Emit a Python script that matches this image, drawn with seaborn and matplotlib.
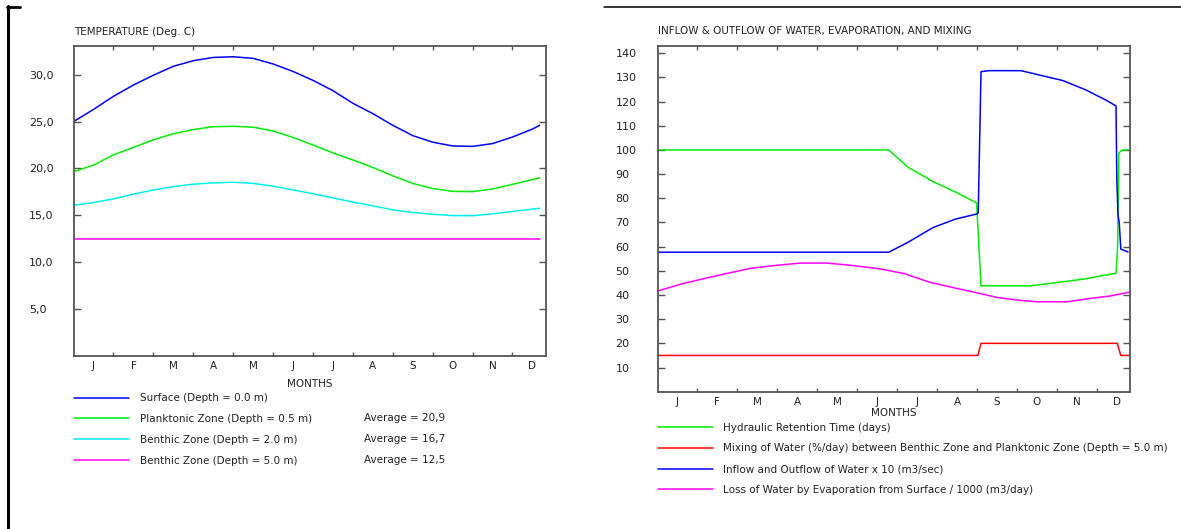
import seaborn as sns
import matplotlib.pyplot as plt
from matplotlib.lines import Line2D

month_names = ["J", "F", "M", "A", "M", "J", "J", "A", "S", "O", "N", "D"]

# --- temperature panel ---
temp_x = [0, 0.5, 1, 1.5, 2, 2.5, 3, 3.5, 4, 4.5, 5, 5.5, 6, 6.5, 7, 7.5,
          8, 8.5, 9, 9.5, 10, 10.5, 11, 11.5, 11.68]
surface_t = [25.0, 26.3, 27.7, 28.9, 29.95, 30.9, 31.5, 31.85, 31.92, 31.75,
             31.15, 30.35, 29.4, 28.3, 26.95, 25.85, 24.6, 23.5, 22.8, 22.4,
             22.35, 22.65, 23.35, 24.2, 24.6]
planktonic_t = [19.65, 20.35, 21.45, 22.25, 23.05, 23.7, 24.15, 24.45, 24.5,
                24.4, 24.0, 23.3, 22.5, 21.65, 20.9, 20.1, 19.2, 18.4, 17.85,
                17.55, 17.52, 17.8, 18.3, 18.8, 19.0]
benthic2_t = [16.07, 16.35, 16.75, 17.25, 17.7, 18.05, 18.32, 18.45, 18.52,
              18.4, 18.1, 17.7, 17.3, 16.85, 16.4, 16.0, 15.58, 15.3, 15.1,
              14.96, 14.95, 15.15, 15.4, 15.65, 15.74]
benthic5_x = [0, 11.68]
benthic5_t = [12.5, 12.5]
temp_labels = ["Surface (Depth = 0.0 m)", "Planktonic Zone (Depth = 0.5 m)",
               "Benthic Zone (Depth = 2.0 m)", "Benthic Zone (Depth = 5.0 m)"]
temp_averages = ["Average = 20,9", "Average = 16,7", "Average = 12,5"]
temp_ticks = [5, 10, 15, 20, 25, 30]

# --- water panel ---
hrt_x = [0, 5.79, 6.26, 6.9, 7.46, 7.99, 8.1, 9.34, 9.84, 10.68, 11.48,
         11.52, 11.55, 11.6, 11.65, 11.78]
hrt = [100, 100, 93, 86.9, 82.6, 78.1, 43.8, 43.8, 44.8, 46.6, 49.0,
       60, 98.6, 99.5, 100, 100]
mixing_x = [0, 8.02, 8.1, 11.51, 11.6, 11.8]
mixing = [15, 15, 20, 20, 15, 15]
flow_x = [0, 5.79, 6.26, 6.9, 7.46, 7.99, 8.03, 8.1, 8.31, 9.1, 9.56, 10.15,
          10.73, 11.23, 11.48, 11.5, 11.53, 11.56, 11.6, 11.78]
flow = [57.7, 57.7, 61.7, 67.9, 71.4, 73.5, 74, 132.4, 132.8, 132.8, 131.0,
        128.7, 124.8, 120.6, 118.2, 88.2, 73, 70, 59, 57.8]
evap_x = [0, 0.65, 1.07, 1.65, 2.32, 2.99, 3.58, 4.24, 4.83, 5.5, 6.17, 6.83,
          7.5, 8.0, 8.5, 9.01, 9.51, 10.26, 10.84, 11.34, 11.8]
evap = [41.6, 44.8, 46.4, 48.6, 51.0, 52.3, 53.2, 53.2, 52.3, 51.0, 48.9,
        45.2, 42.7, 40.9, 39.0, 37.9, 37.2, 37.2, 38.6, 39.6, 41.1]
water_labels = ["Hydraulic Retention Time (days)",
                "Mixing of Water (%/day) between Benthic Zone and Planktonic Zone (Depth = 5.0 m)",
                "Inflow and Outflow of Water x 10 (m3/sec)",
                "Loss of Water by Evaporation from Surface / 1000 (m3/day)"]
water_ticks = [10, 20, 30, 40, 50, 60, 70, 80, 90, 100, 110, 120, 130, 140]

sns.set_theme(style="white")
plt.rcParams["font.family"] = ["DejaVu Sans"]

W, H = 1181, 529
fig = plt.figure(figsize=(W / 100, H / 100), dpi=100)
frame_col = "#555555"
txt_col = "#222222"


def add_axes(l, t, r, b):
    return fig.add_axes([l / W, 1 - b / H, (r - l) / W, (b - t) / H])


def style_axes(ax, ytop, yticks, yfmt, ypad):
    ax.set_xlim(0, 11.83)
    ax.set_ylim(0, ytop)
    for s in ax.spines.values():
        s.set_color(frame_col)
        s.set_linewidth(1.3)
    ax.set_xticks(range(1, 12))
    ax.set_xticklabels([])
    ax.set_xticks([k + 0.5 for k in range(12)], minor=True)
    ax.set_xticklabels(month_names, minor=True, fontsize=7.5, color=txt_col)
    ax.tick_params(axis="x", which="major", direction="in", length=3, width=1,
                   color=frame_col, top=True, bottom=True)
    ax.tick_params(axis="x", which="minor", length=0, pad=3.5)
    ax.set_yticks(yticks)
    ax.set_yticklabels([yfmt(v) for v in yticks], fontsize=8, color=txt_col,
                       ha="left")
    ax.tick_params(axis="y", direction="in", length=5, width=1,
                   color=frame_col, left=True, right=True, pad=ypad)
    ax.set_xlabel("")
    ax.set_ylabel("")


# ---------------- temperature ----------------
ax1 = add_axes(73.6, 46, 545.6, 355.7)
sns.lineplot(x=temp_x, y=surface_t, color="#0000ff", lw=1.1, ax=ax1,
             estimator=None, sort=False, label=temp_labels[0])
sns.lineplot(x=temp_x, y=planktonic_t, color="#00ee00", lw=1.1, ax=ax1,
             estimator=None, sort=False, label=temp_labels[1])
sns.lineplot(x=temp_x, y=benthic2_t, color="#00eeee", lw=1.1, ax=ax1,
             estimator=None, sort=False, label=temp_labels[2])
sns.lineplot(x=benthic5_x, y=benthic5_t, color="#ff00ff", lw=1.1, ax=ax1,
             estimator=None, sort=False, label=temp_labels[3])
style_axes(ax1, 33.07, temp_ticks, lambda v: f"{v:.1f}".replace(".", ","), 32.3)
ax1.text(0, 1.046, "TEMPERATURE (Deg. C)", transform=ax1.transAxes,
         fontsize=7.5, color=txt_col, va="center", ha="left")
ax1.text(0.5, -0.092, "MONTHS", transform=ax1.transAxes, fontsize=7.5,
         color=txt_col, va="center", ha="center")
leg1 = ax1.legend(loc="upper left", bbox_to_anchor=(0, -0.121), frameon=False,
                  fontsize=7.5, handlelength=5.3, handletextpad=1.1,
                  borderpad=0, borderaxespad=0, labelspacing=1.04)
for t in leg1.get_texts():
    t.set_color(txt_col)
for i, s in enumerate(temp_averages):
    ax1.text(0.615, (355.7 - (418 + 21 * i)) / 309.7, s,
             transform=ax1.transAxes, fontsize=7.5, color=txt_col,
             va="center", ha="left")

# ---------------- water ----------------
ax2 = add_axes(657.5, 46, 1130, 391.7)
sns.lineplot(x=hrt_x, y=hrt, color="#00ee00", lw=1.1, ax=ax2,
             estimator=None, sort=False, label=water_labels[0])
sns.lineplot(x=mixing_x, y=mixing, color="#ff0000", lw=1.1, ax=ax2,
             estimator=None, sort=False, label=water_labels[1])
sns.lineplot(x=flow_x, y=flow, color="#0000ff", lw=1.1, ax=ax2,
             estimator=None, sort=False, label=water_labels[2])
sns.lineplot(x=evap_x, y=evap, color="#ff00ff", lw=1.1, ax=ax2,
             estimator=None, sort=False, label=water_labels[3])
style_axes(ax2, 143, water_ticks, lambda v: f"{v}", 30.2)
ax2.text(0, 1.043, "INFLOW & OUTFLOW OF WATER, EVAPORATION, AND MIXING",
         transform=ax2.transAxes, fontsize=7.5, color=txt_col, va="center",
         ha="left")
ax2.text(0.5, -0.0625, "MONTHS", transform=ax2.transAxes, fontsize=7.5,
         color=txt_col, va="center", ha="center")
leg2 = ax2.legend(loc="upper left", bbox_to_anchor=(0, -0.0895), frameon=False,
                  fontsize=7.5, handlelength=5.3, handletextpad=1.0,
                  borderpad=0, borderaxespad=0, labelspacing=1.04)
for t in leg2.get_texts():
    t.set_color(txt_col)

# page border pieces
fig.add_artist(Line2D([8 / W, 8 / W], [0, 1 - 6 / H], color="black", lw=2.2,
                      transform=fig.transFigure))
fig.add_artist(Line2D([7 / W, 20 / W], [1 - 6.5 / H, 1 - 6.5 / H],
                      color="black", lw=2.0, transform=fig.transFigure))
fig.add_artist(Line2D([604 / W, 1], [1 - 6.5 / H, 1 - 6.5 / H],
                      color="black", lw=1.1, transform=fig.transFigure))

fig.savefig("out.png", dpi=100)
